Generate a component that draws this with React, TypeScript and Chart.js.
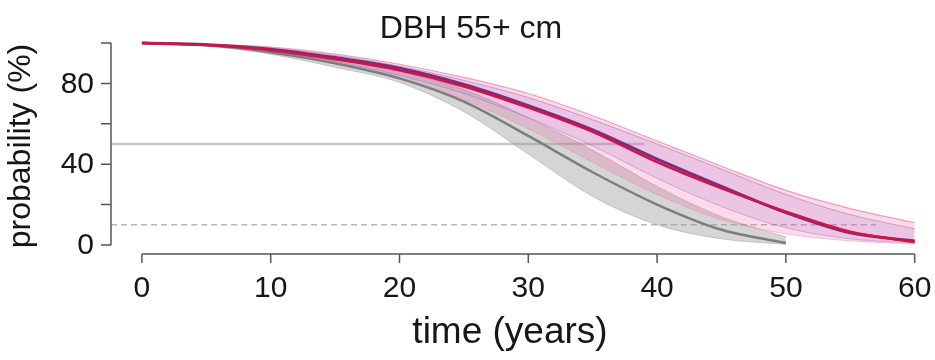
import React, { useEffect, useRef } from "react";
import { Chart, registerables } from "chart.js";

Chart.register(...registerables);

// ---------- data ----------
const timeAll = [0, 5, 10, 15, 20, 25, 30, 35, 40, 45, 50, 55, 60];
const timeGray = [0, 5, 10, 15, 20, 25, 30, 35, 40, 45, 50];

const grayMean = [100, 99, 95.5, 90, 82.5, 71, 54, 36, 20, 7.5, 1];
const grayUpper = [100, 99.5, 97, 92.5, 86, 77, 63, 47, 29, 14, 4];
const grayLower = [100, 98.5, 94.5, 88, 80.5, 66, 45, 24, 10, 3, 0.3];

const redMean = [100, 99, 96.5, 92, 86.5, 78.5, 68, 56, 41, 28, 16.5, 6.5, 1.5];
const purpleMean = [100, 99.2, 97, 92.8, 87.5, 79.5, 69, 57, 42.5, 29, 16, 6, 2];

const pinkUpper = [100, 99.5, 98, 94.5, 89.5, 83, 75, 64, 51.5, 39, 27, 18, 11];
const pinkLower = [100, 98.5, 95, 90, 82.5, 72, 57.5, 41, 25, 12.5, 5.5, 2, 0.5];
const purpleUpper = [100, 99.4, 97.5, 93.8, 88.5, 81.5, 73, 62, 50, 37.5, 25, 15, 8];
const purpleLower = [100, 98.8, 95.8, 91, 84, 75, 63, 49, 33, 19, 8.5, 3, 1];

const refMedian = 50;
const refMedianSpan = [-2.4, 39];
const refTen = 10;
const refTenSpan = [-2.4, 57];

const xTicks = [0, 10, 20, 30, 40, 50, 60];
const xTickLabels = ["0", "10", "20", "30", "40", "50", "60"];
const yTicks = [0, 20, 40, 60, 80, 100];
const yTickLabels = ["0", "", "40", "", "80", ""];

const titleText = "DBH 55+ cm";
const xTitle = "time (years)";
const yTitle = "probability (%)";

const X_MIN = -2.4;
const X_MAX = 61.5;
const Y_MIN = -4;
const Y_MAX = 104;

const pts = (xs: number[], ys: number[]) => xs.map((x, i) => ({ x, y: ys[i] }));

const FONT = "'Liberation Sans', Arial, Helvetica, sans-serif";

const axesPlugin = {
  id: "rAxes",
  beforeDraw(chart: any) {
    const { ctx, width, height } = chart;
    ctx.save();
    ctx.fillStyle = "#ffffff";
    ctx.fillRect(0, 0, width, height);
    ctx.restore();
  },
  afterDraw(chart: any) {
    const { ctx, chartArea } = chart;
    const xs = chart.scales.x;
    const ys = chart.scales.y;
    ctx.save();
    ctx.strokeStyle = "#555555";
    ctx.lineWidth = 1.5;
    ctx.fillStyle = "#161616";

    // y axis
    const yAxisX = chartArea.left;
    ctx.beginPath();
    ctx.moveTo(yAxisX, ys.getPixelForValue(yTicks[0]));
    ctx.lineTo(yAxisX, ys.getPixelForValue(yTicks[yTicks.length - 1]));
    yTicks.forEach((t) => {
      const py = ys.getPixelForValue(t);
      ctx.moveTo(yAxisX, py);
      ctx.lineTo(yAxisX - 10, py);
    });
    ctx.stroke();
    ctx.font = `30px ${FONT}`;
    ctx.textAlign = "right";
    ctx.textBaseline = "middle";
    yTicks.forEach((t, i) => {
      if (yTickLabels[i]) ctx.fillText(yTickLabels[i], yAxisX - 17, ys.getPixelForValue(t) + 1);
    });

    // x axis
    const xAxisY = chartArea.bottom + 1;
    ctx.beginPath();
    ctx.moveTo(xs.getPixelForValue(xTicks[0]), xAxisY);
    ctx.lineTo(xs.getPixelForValue(xTicks[xTicks.length - 1]), xAxisY);
    xTicks.forEach((t) => {
      const px = xs.getPixelForValue(t);
      ctx.moveTo(px, xAxisY);
      ctx.lineTo(px, xAxisY + 9);
    });
    ctx.stroke();
    ctx.textAlign = "center";
    ctx.textBaseline = "alphabetic";
    xTicks.forEach((t, i) => {
      ctx.fillText(xTickLabels[i], xs.getPixelForValue(t), xAxisY + 43);
    });

    // titles
    ctx.font = `32px ${FONT}`;
    ctx.textAlign = "center";
    ctx.fillText(titleText, 471, 38);

    ctx.font = `37px ${FONT}`;
    ctx.fillText(xTitle, 510, 343);

    ctx.font = `32px ${FONT}`;
    ctx.translate(30, 146);
    ctx.rotate(-Math.PI / 2);
    ctx.fillText(yTitle, 0, 0);
    ctx.restore();
  },
};

export default function App() {
  const canvasRef = useRef<HTMLCanvasElement | null>(null);

  useEffect(() => {
    document.body.style.margin = "0";
    const canvas = canvasRef.current;
    if (!canvas) return;

    const smooth = { cubicInterpolationMode: "monotone" as const, pointRadius: 0, pointHoverRadius: 0 };

    const chart = new Chart(canvas, {
      type: "line",
      data: {
        datasets: [
          {
            label: "median reference",
            data: [
              { x: refMedianSpan[0], y: refMedian },
              { x: refMedianSpan[1], y: refMedian },
            ],
            borderColor: "#c9c9c9",
            borderWidth: 2.5,
            pointRadius: 0,
            fill: false,
            order: 20,
          },
          {
            label: "10% reference",
            data: [
              { x: refTenSpan[0], y: refTen },
              { x: refTenSpan[1], y: refTen },
            ],
            borderColor: "#b8b8b8",
            borderWidth: 1.5,
            borderDash: [6, 4],
            pointRadius: 0,
            fill: false,
            order: 19,
          },
          {
            label: "gray upper",
            data: pts(timeGray, grayUpper),
            borderColor: "rgba(140,140,140,0.4)",
            borderWidth: 1,
            backgroundColor: "rgba(150,150,150,0.4)",
            fill: 3,
            order: 12,
            ...smooth,
          },
          {
            label: "gray lower",
            data: pts(timeGray, grayLower),
            borderColor: "rgba(140,140,140,0.4)",
            borderWidth: 1,
            fill: false,
            order: 11,
            ...smooth,
          },
          {
            label: "pink upper",
            data: pts(timeAll, pinkUpper),
            borderColor: "rgba(240,130,165,0.75)",
            borderWidth: 1.2,
            backgroundColor: "rgba(235,90,160,0.22)",
            fill: 5,
            order: 10,
            ...smooth,
          },
          {
            label: "pink lower",
            data: pts(timeAll, pinkLower),
            borderColor: "rgba(235,130,175,0.45)",
            borderWidth: 1,
            fill: false,
            order: 9,
            ...smooth,
          },
          {
            label: "purple upper",
            data: pts(timeAll, purpleUpper),
            borderColor: "rgba(150,100,170,0.5)",
            borderWidth: 1,
            backgroundColor: "rgba(165,100,200,0.18)",
            fill: 7,
            order: 8,
            ...smooth,
          },
          {
            label: "purple lower",
            data: pts(timeAll, purpleLower),
            borderColor: "rgba(150,100,170,0.4)",
            borderWidth: 1,
            fill: false,
            order: 7,
            ...smooth,
          },
          {
            label: "gray mean",
            data: pts(timeGray, grayMean),
            borderColor: "#7d7d7d",
            borderWidth: 2.5,
            fill: false,
            order: 3,
            ...smooth,
          },
          {
            label: "purple mean",
            data: pts(timeAll, purpleMean),
            borderColor: "#7e2c7e",
            borderWidth: 3,
            fill: false,
            order: 2,
            ...smooth,
          },
          {
            label: "red mean",
            data: pts(timeAll, redMean),
            borderColor: "#cf1446",
            borderWidth: 2.5,
            fill: false,
            order: 1,
            ...smooth,
          },
        ],
      },
      options: {
        animation: false,
        responsive: true,
        maintainAspectRatio: false,
        devicePixelRatio: 1,
        layout: { padding: { left: 111, right: 1, top: 35, bottom: 107 } },
        plugins: {
          legend: { display: false },
          title: { display: false },
          tooltip: { enabled: false },
          filler: { propagate: false },
        },
        scales: {
          x: { type: "linear", min: X_MIN, max: X_MAX, display: false },
          y: { type: "linear", min: Y_MIN, max: Y_MAX, display: false },
        },
        elements: { line: { tension: 0.4 } },
      },
      plugins: [axesPlugin],
    });

    return () => chart.destroy();
  }, []);

  return (
    <div style={{ position: "relative", width: "935px", height: "360px" }}>
      <canvas ref={canvasRef} />
    </div>
  );
}
